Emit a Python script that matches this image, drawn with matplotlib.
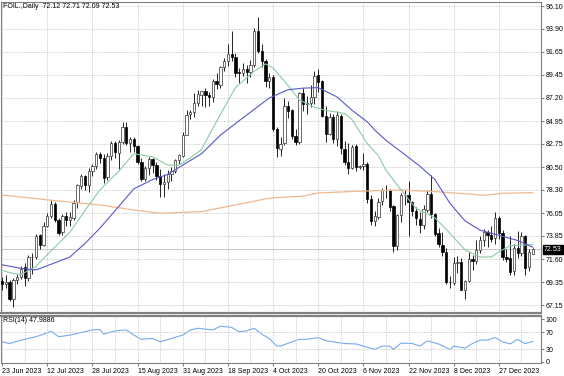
import numpy as np
import matplotlib.pyplot as plt

# daily candles, bar index 0 = 23 Jun 2023
opens = [
    69.5, 69.2, 69.4, 67.7, 69.6, 69.9, 70.8, 69.8, 71.8, 71.8,
    73.9, 73.0, 74.8, 75.8, 76.9, 75.4, 74.2, 75.8, 75.4, 75.6,
    77.1, 78.7, 79.6, 78.8, 80.1, 80.6, 81.8, 81.4, 79.5, 81.6,
    82.8, 81.9, 82.9, 84.4, 82.8, 83.2, 82.5, 81.0, 79.4, 80.4,
    81.3, 80.7, 79.6, 78.9, 79.1, 79.8, 80.1, 81.2, 81.6, 83.6,
    85.6, 85.8, 86.7, 87.5, 87.9, 87.5, 87.3, 88.8, 88.5, 90.2,
    90.8, 91.5, 91.2, 89.7, 89.6, 90.0, 89.7, 90.4, 93.7, 91.7,
    90.8, 88.8, 89.2, 84.2, 82.3, 82.8, 86.4, 86.0, 83.5, 82.9,
    87.7, 86.7, 86.7, 87.3, 89.4, 88.8, 85.5, 83.7, 85.4, 83.2,
    85.5, 82.3, 81.0, 80.4, 82.5, 80.5, 80.6, 80.8, 77.4, 75.3,
    75.7, 77.2, 78.3, 78.3, 76.7, 72.9, 75.9, 77.8, 77.8, 77.1,
    76.3, 75.5, 74.9, 76.4, 77.9, 76.0, 74.1, 73.0, 72.3, 69.4,
    69.3, 71.2, 71.3, 68.6, 69.5, 71.6, 71.4, 72.5, 73.4, 74.2,
    73.9, 73.6, 75.6, 74.1, 71.8, 71.7, 70.4, 72.7, 72.2, 73.8,
    70.8, 72.12]
highs = [
    69.9, 70.1, 69.6, 69.8, 70.2, 70.9, 71.2, 72.0, 72.2, 74.0,
    74.0, 75.2, 76.1, 77.3, 77.1, 75.6, 76.0, 76.2, 76.2, 77.3,
    78.9, 79.8, 79.7, 80.4, 80.8, 82.0, 82.0, 81.8, 81.9, 83.0,
    83.0, 83.1, 84.9, 84.9, 83.4, 83.4, 82.6, 81.4, 80.6, 81.5,
    81.4, 81.0, 80.3, 79.8, 80.2, 80.5, 81.3, 81.8, 83.9, 86.0,
    86.0, 87.7, 88.0, 87.9, 88.2, 87.8, 89.0, 89.6, 90.3, 91.1,
    92.4, 93.7, 91.6, 90.1, 90.6, 90.4, 90.9, 94.0, 95.0, 92.4,
    91.0, 89.6, 89.4, 84.4, 83.4, 87.2, 86.9, 86.1, 84.2, 87.8,
    88.2, 87.4, 88.5, 89.8, 90.0, 88.9, 86.4, 85.7, 85.6, 85.9,
    85.6, 83.0, 82.8, 82.6, 82.7, 80.7, 81.9, 81.0, 77.8, 76.3,
    77.5, 78.5, 78.8, 78.4, 76.8, 76.0, 78.0, 78.3, 79.2, 77.2,
    76.6, 76.2, 76.8, 78.3, 79.7, 76.1, 74.6, 74.2, 72.7, 70.0,
    71.8, 71.9, 71.7, 69.6, 72.3, 72.0, 73.4, 73.8, 74.5, 74.4,
    74.8, 76.2, 75.8, 74.4, 72.6, 73.8, 73.1, 74.3, 74.2, 73.9,
    72.6, 72.71]
lows = [
    68.6, 68.8, 67.5, 67.0, 69.2, 69.7, 69.0, 69.5, 70.2, 71.6,
    72.6, 72.9, 74.7, 75.6, 75.2, 73.9, 73.9, 74.8, 74.8, 75.4,
    76.5, 78.4, 78.3, 78.1, 79.6, 80.3, 80.9, 79.0, 79.3, 81.2,
    81.4, 80.3, 82.7, 82.6, 82.0, 82.0, 80.8, 79.2, 79.2, 79.7,
    79.9, 79.3, 77.6, 77.6, 78.4, 79.2, 79.9, 80.8, 81.5, 83.6,
    85.2, 85.4, 86.4, 86.4, 86.3, 86.4, 86.8, 88.1, 88.2, 89.8,
    90.3, 90.8, 89.2, 88.6, 89.3, 88.6, 89.2, 90.2, 91.6, 90.2,
    88.3, 88.2, 84.0, 81.5, 81.6, 82.6, 85.3, 83.2, 82.6, 82.7,
    85.9, 85.6, 86.3, 86.6, 87.8, 85.4, 82.9, 83.6, 82.8, 82.5,
    81.8, 80.7, 79.8, 80.3, 80.1, 80.3, 80.2, 77.0, 74.9, 74.8,
    75.5, 76.8, 77.5, 76.3, 72.3, 72.5, 75.2, 76.8, 73.8, 75.8,
    74.9, 74.1, 74.5, 76.2, 75.6, 73.8, 72.8, 71.9, 69.2, 68.8,
    69.1, 70.3, 68.6, 67.7, 69.4, 70.5, 71.1, 72.2, 72.9, 72.8,
    73.3, 73.1, 73.5, 71.5, 71.3, 70.1, 70.1, 71.7, 71.9, 70.1,
    70.4, 72.09]
closes = [
    69.16, 69.37, 67.70, 69.56, 69.86, 70.64, 69.79, 71.79, 71.80, 73.86,
    72.99, 74.83, 75.75, 76.89, 75.42, 74.15, 75.75, 75.35, 75.63, 77.07,
    78.74, 79.63, 78.78, 80.09, 80.58, 81.80, 81.37, 79.49, 81.55, 82.82,
    81.94, 82.92, 84.40, 82.82, 83.19, 82.51, 80.99, 79.38, 80.39, 81.25,
    80.72, 79.64, 78.89, 79.05, 79.83, 80.10, 81.16, 81.63, 83.63, 85.55,
    85.80, 86.69, 87.54, 87.87, 87.51, 87.29, 88.84, 88.52, 90.16, 90.77,
    91.48, 91.20, 89.66, 89.63, 90.03, 89.68, 90.39, 93.68, 91.71, 90.79,
    88.82, 89.23, 84.22, 82.31, 82.79, 86.38, 85.97, 83.49, 82.91, 87.69,
    86.66, 86.66, 87.27, 89.37, 88.75, 85.49, 83.74, 85.39, 83.21, 85.54,
    82.31, 81.02, 80.44, 82.46, 80.51, 80.60, 80.82, 77.37, 75.33, 75.74,
    77.17, 78.26, 78.26, 76.66, 72.90, 75.89, 77.83, 77.77, 77.10, 76.30,
    75.54, 74.86, 76.41, 77.86, 75.96, 74.07, 73.04, 72.32, 69.38, 69.34,
    71.23, 71.32, 68.61, 69.47, 71.58, 71.43, 72.47, 73.44, 74.22, 73.89,
    73.56, 75.57, 74.11, 71.77, 71.65, 70.38, 72.70, 72.19, 73.81, 70.77,
    72.24, 72.53]

# moving averages (bar index, value)
green_bars = [0, 3, 5, 9, 13, 18, 22, 26, 31, 35, 40, 44, 47, 50, 53, 55, 58, 62, 67, 70, 72,
              76, 79, 83, 86, 91, 93, 97, 100, 102, 106, 110, 115, 119, 123, 127, 130, 132, 135, 141]
green_vals = [70.5, 70.2, 70.1, 70.9, 72.4, 74.2, 76.3, 78.3, 80.1, 81.8, 81.5, 80.7, 80.7, 81.4,
              82.2, 83.6, 85.6, 88.2, 89.8, 90.5, 90.1, 88.4, 87.0, 86.3, 86.0, 85.7, 85.1, 82.8,
              81.6, 80.2, 78.3, 76.5, 75.6, 74.1, 72.5, 71.8, 71.8, 72.3, 72.9, 73.0]
blue_bars = [0, 5, 9, 13, 18, 22, 26, 31, 35, 40, 44, 48, 53, 58, 63, 67, 71, 76, 80, 84, 89,
             93, 97, 99, 102, 106, 111, 115, 119, 123, 127, 132, 137, 141]
blue_vals = [71.05, 70.7, 70.55, 71.1, 71.8, 73.1, 74.6, 76.7, 78.4, 79.3, 79.8, 80.7, 81.8,
             83.6, 85.0, 86.1, 87.2, 88.0, 88.15, 88.2, 87.3, 86.0, 84.9, 84.1, 83.1, 82.0,
             80.6, 79.3, 77.0, 75.3, 74.4, 73.9, 73.4, 72.75]
orange_bars = [0, 13, 26, 35, 42, 53, 62, 71, 80, 84, 97, 106, 115, 124, 128, 133, 141]
orange_vals = [77.8, 77.3, 76.84, 76.35, 76.03, 76.2, 76.84, 77.5, 77.7, 78.0, 78.2, 78.29,
               78.13, 77.9, 77.77, 77.97, 78.03]

# RSI(14)
rsi_bars = [0, 2, 5, 9, 11, 13, 15, 18, 20, 24, 26, 27, 30, 33, 35, 37, 40, 42, 45, 48,
            50, 52, 56, 58, 61, 63, 65, 67, 69, 71, 73, 74, 77, 79, 81, 84, 86, 88, 91, 94,
            96, 99, 101, 103, 104, 106, 109, 111, 113, 116, 119, 120, 123, 125, 127, 129, 131, 133, 135, 137,
            138, 139, 141]
rsi_vals = [47, 43, 51, 59, 65, 72, 59, 63, 67, 75, 76, 65, 73, 75, 63, 53, 55, 47, 55, 63,
            75, 79, 75, 84, 81, 71, 73, 79, 65, 55, 37, 37, 47, 53, 53, 57, 50, 47, 43, 42,
            37, 29, 37, 37, 29, 44, 43, 37, 49, 42, 29, 37, 32, 43, 51, 51, 57, 47, 42, 53,
            47, 43, 48]

price_ticks = [96.10, 93.90, 91.65, 89.45, 87.20, 84.95, 82.75, 80.50, 78.30, 76.05,
               73.85, 71.60, 69.35, 67.15]
date_ticks = [0, 12, 24, 36, 48, 60, 72, 84, 96, 108, 120, 132]
date_labels = ["23 Jun 2023", "12 Jul 2023", "28 Jul 2023", "15 Aug 2023", "31 Aug 2023",
               "18 Sep 2023", "4 Oct 2023", "20 Oct 2023", "6 Nov 2023", "22 Nov 2023",
               "8 Dec 2023", "27 Dec 2023"]

plt.rcParams['font.family'] = ['Liberation Sans', 'DejaVu Sans']
W, H = 564, 376
fig = plt.figure(figsize=(W / 100, H / 100), dpi=100)
ax = fig.add_axes([1 / W, 1 - 313 / H, 540 / W, 311 / H])
ax2 = fig.add_axes([1 / W, 1 - 363 / H, 540 / W, 47 / H], sharex=ax)

o = np.array(opens)
h = np.array(highs)
l = np.array(lows)
c = np.array(closes)
x = np.arange(len(c))
up = c >= o

grid_kw = dict(color='#c4c4c4', linestyle=(0, (1.5, 1.5)), linewidth=0.6)

# candles
ax.vlines(x, l, h, color='black', linewidth=0.6, zorder=2)
body = np.maximum(np.abs(c - o), 0.05)
bottom = np.minimum(o, c)
ax.bar(x[up], body[up], bottom=bottom[up], width=0.62, color='white',
       edgecolor='#303030', linewidth=0.5, zorder=3)
ax.bar(x[~up], body[~up], bottom=bottom[~up], width=0.62, color='black',
       edgecolor='black', linewidth=0.5, zorder=3)

ax.plot(orange_bars, orange_vals, color='#f0b88e', linewidth=0.9, zorder=4)
ax.plot(green_bars, green_vals, color='#88cca4', linewidth=0.8, zorder=4)
ax.plot(blue_bars, blue_vals, color='#5858cc', linewidth=0.8, zorder=4)
ax.axhline(closes[-1], color='#bdbdbd', linewidth=0.6, zorder=1)

ax.set_xlim(-0.3, 143.2)
ax.set_ylim(66.38, 96.49)
ax.set_yticks(price_ticks)
ax.set_yticklabels([f"{p:.2f}" for p in price_ticks])
ax.yaxis.tick_right()
ax.tick_params(axis='y', labelsize=5, length=2, pad=1.5, color='#808080')
ax.tick_params(axis='x', length=0, labelbottom=False)
ax.set_xticks(np.arange(0, 143, 6))
ax.grid(True, **grid_kw)
ax.set_axisbelow(True)

ax.annotate(f"{closes[-1]:.2f}", xy=(1.0, closes[-1]), xycoords=('axes fraction', 'data'),
            xytext=(2, 0), textcoords='offset points', va='center', ha='left',
            fontsize=5, color='white',
            bbox=dict(boxstyle='square,pad=0.15', fc='black', ec='black'))

# RSI panel
ax2.plot(rsi_bars, rsi_vals, color='#74aaf0', linewidth=0.8)
ax2.axhline(70, **grid_kw)
ax2.axhline(30, **grid_kw)
ax2.set_ylim(-3, 108)
ax2.set_yticks([100, 70, 30, 0])
ax2.yaxis.tick_right()
ax2.tick_params(axis='y', labelsize=5, length=2, pad=1.5, color='#808080')
ax2.set_xticks(date_ticks)
ax2.set_xticklabels(date_labels, ha='left')
ax2.tick_params(axis='x', labelsize=5, length=2, pad=1.5, color='#808080')
for xv in np.arange(0, 143, 6):
    ax2.axvline(xv, **grid_kw)
ax2.grid(False)

for a in (ax, ax2):
    for s in a.spines.values():
        s.set_color('#808080')
        s.set_linewidth(0.8)
ax.spines['bottom'].set_linewidth(1.6)
ax2.spines['top'].set_linewidth(1.6)

fig.text(3 / W, 1 - 7 / H, "FOIL.,Daily  72.12 72.71 72.09 72.53", fontsize=5, va='center', ha='left')
fig.text(3 / W, 1 - 321 / H, "RSI(14) 47.9886", fontsize=5, va='center', ha='left')

fig.savefig('out.png', dpi=100)
